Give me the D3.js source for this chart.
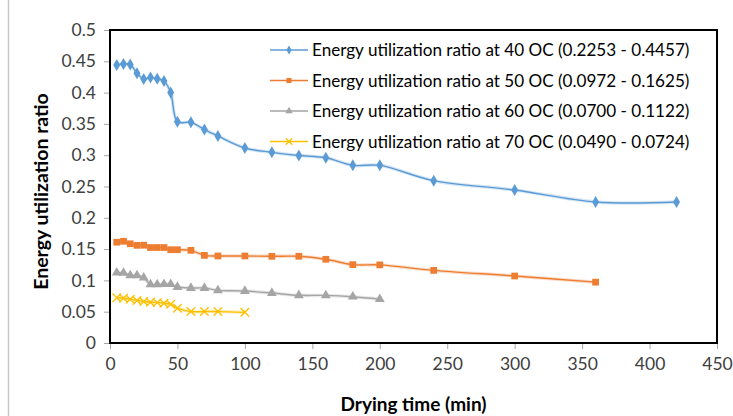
<!DOCTYPE html>
<html>
<head>
<meta charset="utf-8">
<script src="https://cdn.jsdelivr.net/npm/d3@7"></script>
<style>
  html, body { margin: 0; padding: 0; background: #fff; }
  svg { display: block; }
  text { font-family: Lato, "Open Sans", sans-serif; }
</style>
</head>
<body>
<svg id="chart" width="733" height="416"></svg>
<script>
// Drying time (min) for each temperature
const time40 = [5, 10, 15, 20, 25, 30, 35, 40, 45, 50, 60, 70, 80, 100, 120, 140, 160, 180, 200, 240, 300, 360, 420];
const time50 = [5, 10, 15, 20, 25, 30, 35, 40, 45, 50, 60, 70, 80, 100, 120, 140, 160, 180, 200, 240, 300, 360];
const time60 = [5, 10, 15, 20, 25, 30, 35, 40, 45, 50, 60, 70, 80, 100, 120, 140, 160, 180, 200];
const time70 = [5, 10, 15, 20, 25, 30, 35, 40, 45, 50, 60, 70, 80, 100];

// Energy utilization ratio
const eur40 = [0.4440, 0.4457, 0.4450, 0.4310, 0.4217, 0.4240, 0.4220, 0.4185, 0.4000, 0.3535, 0.3525, 0.3410, 0.3307, 0.3115, 0.3046, 0.2995, 0.2960, 0.2838, 0.2838, 0.2593, 0.2444, 0.2253, 0.2253];
const eur50 = [0.1610, 0.1625, 0.1585, 0.1560, 0.1562, 0.1525, 0.1525, 0.1525, 0.1490, 0.1490, 0.1480, 0.1400, 0.1390, 0.1390, 0.1385, 0.1385, 0.1337, 0.1252, 0.1248, 0.1160, 0.1070, 0.0972];
const eur60 = [0.1122, 0.1118, 0.1080, 0.1078, 0.1043, 0.0935, 0.0935, 0.0938, 0.0938, 0.0894, 0.0878, 0.0878, 0.0841, 0.0830, 0.0798, 0.0762, 0.0760, 0.0739, 0.0700];
const eur70 = [0.0724, 0.0714, 0.0700, 0.0680, 0.0664, 0.0652, 0.0645, 0.0634, 0.0618, 0.0556, 0.0502, 0.0502, 0.0502, 0.0490];

const seriesNames = [
  "Energy utilization ratio at 40 OC (0.2253 - 0.4457)",
  "Energy utilization ratio at 50 OC (0.0972 - 0.1625)",
  "Energy utilization ratio at 60 OC (0.0700 - 0.1122)",
  "Energy utilization ratio at 70 OC (0.0490 - 0.0724)"
];
const seriesColors = ["#5B9BD5", "#ED7D31", "#A5A5A5", "#FFC000"];
const seriesMarkers = ["diamond", "square", "triangle", "cross"];

const xTicks = [0, 50, 100, 150, 200, 250, 300, 350, 400, 450];
const yTicks = [0, 0.05, 0.1, 0.15, 0.2, 0.25, 0.3, 0.35, 0.4, 0.45, 0.5];
const xTitle = "Drying time (min)";
const yTitle = "Energy utilization ratio";

const series = [
  { name: seriesNames[0], t: time40, v: eur40 },
  { name: seriesNames[1], t: time50, v: eur50 },
  { name: seriesNames[2], t: time60, v: eur60 },
  { name: seriesNames[3], t: time70, v: eur70 }
].map((s, i) => ({
  ...s,
  color: seriesColors[i],
  marker: seriesMarkers[i],
  points: s.t.map((t, j) => ({ t, v: s.v[j] }))
}));

const svg = d3.select("#chart");
const plot = { left: 110, right: 717, top: 30, bottom: 343 };

const x = d3.scaleLinear().domain([0, 450]).range([plot.left, plot.right]);
const y = d3.scaleLinear().domain([0, 0.5]).range([plot.bottom, plot.top]);

// faint outer frame edge on the left
svg.append("line")
  .attr("x1", 8.5).attr("x2", 8.5).attr("y1", 0).attr("y2", 416)
  .attr("stroke", "#C8C8C8").attr("stroke-width", 1.5);

// Axes
const fmtY = d => (d === 0 ? "0" : String(+d.toFixed(2)));
const yAxis = svg.append("g")
  .attr("transform", `translate(${plot.left},0)`)
  .call(d3.axisLeft(y).tickValues(yTicks).tickFormat(fmtY).tickSize(6).tickPadding(8));
const xAxis = svg.append("g")
  .attr("transform", `translate(0,${plot.bottom})`)
  .call(d3.axisBottom(x).tickValues(xTicks).tickFormat(d3.format("d")).tickSize(6).tickPadding(9));

[yAxis, xAxis].forEach(g => {
  g.select(".domain").remove();
  g.selectAll(".tick line").attr("stroke", "#A6A6A6").attr("stroke-width", 1);
  g.selectAll(".tick text")
    .attr("fill", "#404040")
    .style("font-family", "Lato, sans-serif")
    .style("font-size", "17.5px");
});

// Plot area border
svg.append("rect")
  .attr("x", plot.left).attr("y", plot.top)
  .attr("width", plot.right - plot.left).attr("height", plot.bottom - plot.top)
  .attr("fill", "none").attr("stroke", "#000").attr("stroke-width", 2);

// Axis titles
svg.append("text")
  .attr("x", (plot.left + plot.right) / 2 + 0).attr("y", 411)
  .attr("text-anchor", "middle")
  .style("font-size", "19px").style("font-weight", "bold").attr("fill", "#000")
  .text(xTitle);
svg.append("text")
  .attr("transform", `translate(48,${(plot.top + plot.bottom) / 2 + 5}) rotate(-90)`)
  .attr("text-anchor", "middle")
  .style("font-size", "19.5px").style("font-weight", "bold").attr("fill", "#000")
  .text(yTitle);

// Marker drawing
function drawMarker(g, type, color, size) {
  if (type === "diamond") {
    g.append("path").attr("d", d3.symbol(d3.symbolDiamond, size * 6)()).attr("fill", color);
  } else if (type === "square") {
    g.append("path").attr("d", d3.symbol(d3.symbolSquare, size * 6.5)()).attr("fill", color);
  } else if (type === "triangle") {
    g.append("path").attr("d", d3.symbol(d3.symbolTriangle, size * 6)()).attr("fill", color);
  } else {
    g.append("path").attr("d", d3.symbol(d3.symbolX, size * 7)())
      .attr("fill", "none").attr("stroke", color).attr("stroke-width", 1.3);
  }
}

const line = d3.line()
  .x(d => x(d.t)).y(d => y(d.v))
  .curve(d3.curveCatmullRom.alpha(0.5));

const seriesG = svg.append("g");
series.forEach(s => {
  const g = seriesG.append("g");
  g.append("path").attr("d", line(s.points))
    .attr("fill", "none").attr("stroke", s.color).attr("stroke-width", 3.5).attr("stroke-opacity", 0.25);
  g.append("path").attr("d", line(s.points))
    .attr("fill", "none").attr("stroke", s.color).attr("stroke-width", 1.4);
  s.points.forEach(p => {
    const m = g.append("g").attr("transform", `translate(${x(p.t)},${y(p.v)})`);
    drawMarker(m, s.marker, s.color, 7);
  });
});

// Legend
const legend = svg.append("g").attr("transform", "translate(270,50)");
series.forEach((s, i) => {
  const row = legend.append("g").attr("transform", `translate(0,${i * 30.5})`);
  row.append("line").attr("x1", 0).attr("x2", 38).attr("y1", 0).attr("y2", 0)
    .attr("stroke", s.color).attr("stroke-width", 1.5);
  const m = row.append("g").attr("transform", "translate(19,0)");
  drawMarker(m, s.marker, s.color, 4);
  row.append("text").attr("x", 42).attr("y", 0).attr("dy", "0.36em")
    .style("font-size", "17.1px").attr("fill", "#000")
    .text(s.name);
});
</script>
</body>
</html>
